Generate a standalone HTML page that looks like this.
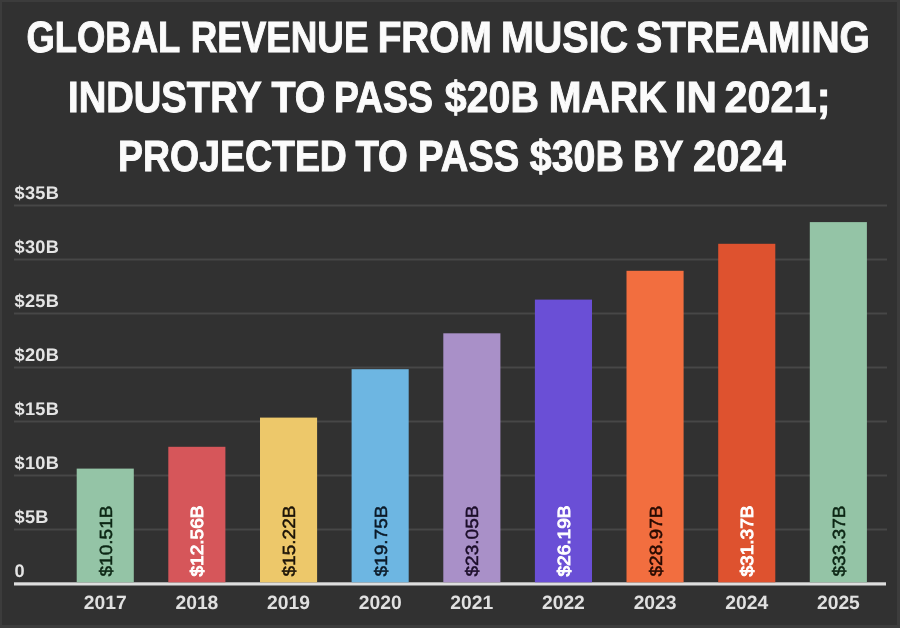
<!DOCTYPE html>
<html><head><meta charset="utf-8"><style>
html,body{margin:0;padding:0;background:#313131;}
svg{display:block;font-family:"Liberation Sans",sans-serif;will-change:transform;text-rendering:geometricPrecision;}
</style></head><body>
<svg width="900" height="628" viewBox="0 0 900 628">
<rect x="0" y="0" width="900" height="628" fill="#3c3c3c"/>
<rect x="2" y="2" width="895" height="623" fill="#313131"/>
<text x="26.43" y="51.80" textLength="153.80" lengthAdjust="spacingAndGlyphs" font-size="43.6" font-weight="bold" fill="#fbfbfb" stroke="#fbfbfb" stroke-width="1.0">GLOBAL</text>
<text x="190.63" y="51.80" textLength="177.81" lengthAdjust="spacingAndGlyphs" font-size="43.6" font-weight="bold" fill="#fbfbfb" stroke="#fbfbfb" stroke-width="1.0">REVENUE</text>
<text x="377.70" y="51.80" textLength="114.12" lengthAdjust="spacingAndGlyphs" font-size="43.6" font-weight="bold" fill="#fbfbfb" stroke="#fbfbfb" stroke-width="1.0">FROM</text>
<text x="500.95" y="51.80" textLength="127.19" lengthAdjust="spacingAndGlyphs" font-size="43.6" font-weight="bold" fill="#fbfbfb" stroke="#fbfbfb" stroke-width="1.0">MUSIC</text>
<text x="636.15" y="51.80" textLength="233.65" lengthAdjust="spacingAndGlyphs" font-size="43.6" font-weight="bold" fill="#fbfbfb" stroke="#fbfbfb" stroke-width="1.0">STREAMING</text>
<text x="68.04" y="111.90" textLength="193.74" lengthAdjust="spacingAndGlyphs" font-size="43.6" font-weight="bold" fill="#fbfbfb" stroke="#fbfbfb" stroke-width="1.0">INDUSTRY</text>
<text x="271.38" y="111.90" textLength="54.01" lengthAdjust="spacingAndGlyphs" font-size="43.6" font-weight="bold" fill="#fbfbfb" stroke="#fbfbfb" stroke-width="1.0">TO</text>
<text x="333.89" y="111.90" textLength="98.97" lengthAdjust="spacingAndGlyphs" font-size="43.6" font-weight="bold" fill="#fbfbfb" stroke="#fbfbfb" stroke-width="1.0">PASS</text>
<text x="444.78" y="111.90" textLength="94.06" lengthAdjust="spacingAndGlyphs" font-size="43.6" font-weight="bold" fill="#fbfbfb" stroke="#fbfbfb" stroke-width="1.0">&#36;20B</text>
<text x="548.77" y="111.90" textLength="117.84" lengthAdjust="spacingAndGlyphs" font-size="43.6" font-weight="bold" fill="#fbfbfb" stroke="#fbfbfb" stroke-width="1.0">MARK</text>
<text x="674.78" y="111.90" textLength="42.14" lengthAdjust="spacingAndGlyphs" font-size="43.6" font-weight="bold" fill="#fbfbfb" stroke="#fbfbfb" stroke-width="1.0">IN</text>
<text x="724.46" y="111.90" textLength="105.99" lengthAdjust="spacingAndGlyphs" font-size="43.6" font-weight="bold" fill="#fbfbfb" stroke="#fbfbfb" stroke-width="1.0">2021;</text>
<text x="118.08" y="170.70" textLength="228.81" lengthAdjust="spacingAndGlyphs" font-size="43.6" font-weight="bold" fill="#fbfbfb" stroke="#fbfbfb" stroke-width="1.0">PROJECTED</text>
<text x="355.39" y="170.70" textLength="52.44" lengthAdjust="spacingAndGlyphs" font-size="43.6" font-weight="bold" fill="#fbfbfb" stroke="#fbfbfb" stroke-width="1.0">TO</text>
<text x="418.04" y="170.70" textLength="101.15" lengthAdjust="spacingAndGlyphs" font-size="43.6" font-weight="bold" fill="#fbfbfb" stroke="#fbfbfb" stroke-width="1.0">PASS</text>
<text x="529.78" y="170.70" textLength="94.06" lengthAdjust="spacingAndGlyphs" font-size="43.6" font-weight="bold" fill="#fbfbfb" stroke="#fbfbfb" stroke-width="1.0">&#36;30B</text>
<text x="633.16" y="170.70" textLength="50.30" lengthAdjust="spacingAndGlyphs" font-size="43.6" font-weight="bold" fill="#fbfbfb" stroke="#fbfbfb" stroke-width="1.0">BY</text>
<text x="692.96" y="170.70" textLength="92.73" lengthAdjust="spacingAndGlyphs" font-size="43.6" font-weight="bold" fill="#fbfbfb" stroke="#fbfbfb" stroke-width="1.0">2024</text>
<rect x="14" y="528.5" width="873" height="2" fill="#474747"/>
<rect x="14" y="474.5" width="873" height="2" fill="#474747"/>
<rect x="14" y="420.5" width="873" height="2" fill="#474747"/>
<rect x="14" y="366.5" width="873" height="2" fill="#474747"/>
<rect x="14" y="312.5" width="873" height="2" fill="#474747"/>
<rect x="14" y="258.5" width="873" height="2" fill="#474747"/>
<rect x="14" y="204.5" width="873" height="2" fill="#474747"/>
<text x="14.5" y="576.9" font-size="18.2" letter-spacing="0.3" font-weight="bold" fill="#e4e4e4">0</text>
<text x="14.5" y="522.9" font-size="18.2" letter-spacing="0.3" font-weight="bold" fill="#e4e4e4">$5B</text>
<text x="14.5" y="468.9" font-size="18.2" letter-spacing="0.3" font-weight="bold" fill="#e4e4e4">$10B</text>
<text x="14.5" y="414.9" font-size="18.2" letter-spacing="0.3" font-weight="bold" fill="#e4e4e4">$15B</text>
<text x="14.5" y="360.9" font-size="18.2" letter-spacing="0.3" font-weight="bold" fill="#e4e4e4">$20B</text>
<text x="14.5" y="306.9" font-size="18.2" letter-spacing="0.3" font-weight="bold" fill="#e4e4e4">$25B</text>
<text x="14.5" y="252.9" font-size="18.2" letter-spacing="0.3" font-weight="bold" fill="#e4e4e4">$30B</text>
<text x="14.5" y="198.9" font-size="18.2" letter-spacing="0.3" font-weight="bold" fill="#e4e4e4">$35B</text>
<rect x="14" y="582.3" width="872" height="3.2" fill="#dedede"/>
<rect x="76.7" y="468.6" width="57.1" height="113.7" fill="#94c4a6"/>
<text transform="translate(111.85,576.5) rotate(-90)" x="0" y="0" textLength="71" lengthAdjust="spacingAndGlyphs" font-size="17.6" font-weight="normal" fill="#0c2614" stroke="#0c2614" stroke-width="0.5">&#36;10.51B</text>
<text x="105.2" y="608.6" text-anchor="middle" font-size="19.3" font-weight="bold" fill="#e0e0e0">2017</text>
<rect x="168.3" y="446.8" width="57.1" height="135.5" fill="#d6565a"/>
<text transform="translate(203.49,576.5) rotate(-90)" x="0" y="0" textLength="71" lengthAdjust="spacingAndGlyphs" font-size="17.6" font-weight="normal" fill="#ffffff" stroke="#ffffff" stroke-width="0.9">&#36;12.56B</text>
<text x="196.9" y="608.6" text-anchor="middle" font-size="19.3" font-weight="bold" fill="#e0e0e0">2018</text>
<rect x="260.0" y="417.6" width="57.1" height="164.7" fill="#edc86a"/>
<text transform="translate(295.13,576.5) rotate(-90)" x="0" y="0" textLength="71" lengthAdjust="spacingAndGlyphs" font-size="17.6" font-weight="normal" fill="#1c1408" stroke="#1c1408" stroke-width="0.5">&#36;15.22B</text>
<text x="288.5" y="608.6" text-anchor="middle" font-size="19.3" font-weight="bold" fill="#e0e0e0">2019</text>
<rect x="351.6" y="369.2" width="57.1" height="213.1" fill="#6db6e2"/>
<text transform="translate(386.77,576.5) rotate(-90)" x="0" y="0" textLength="71" lengthAdjust="spacingAndGlyphs" font-size="17.6" font-weight="normal" fill="#0c1a28" stroke="#0c1a28" stroke-width="0.5">&#36;19.75B</text>
<text x="380.2" y="608.6" text-anchor="middle" font-size="19.3" font-weight="bold" fill="#e0e0e0">2020</text>
<rect x="443.3" y="333.3" width="57.1" height="249.0" fill="#a990c8"/>
<text transform="translate(478.41,576.5) rotate(-90)" x="0" y="0" textLength="71" lengthAdjust="spacingAndGlyphs" font-size="17.6" font-weight="normal" fill="#1c0e2a" stroke="#1c0e2a" stroke-width="0.5">&#36;23.05B</text>
<text x="471.8" y="608.6" text-anchor="middle" font-size="19.3" font-weight="bold" fill="#e0e0e0">2021</text>
<rect x="534.9" y="299.6" width="57.1" height="282.7" fill="#6a4fd6"/>
<text transform="translate(570.05,576.5) rotate(-90)" x="0" y="0" textLength="71" lengthAdjust="spacingAndGlyphs" font-size="17.6" font-weight="normal" fill="#ffffff" stroke="#ffffff" stroke-width="0.9">&#36;26.19B</text>
<text x="563.4" y="608.6" text-anchor="middle" font-size="19.3" font-weight="bold" fill="#e0e0e0">2022</text>
<rect x="626.5" y="270.8" width="57.1" height="311.5" fill="#f26e3f"/>
<text transform="translate(661.69,576.5) rotate(-90)" x="0" y="0" textLength="71" lengthAdjust="spacingAndGlyphs" font-size="17.6" font-weight="normal" fill="#260a02" stroke="#260a02" stroke-width="0.5">&#36;28.97B</text>
<text x="655.1" y="608.6" text-anchor="middle" font-size="19.3" font-weight="bold" fill="#e0e0e0">2023</text>
<rect x="718.2" y="243.8" width="57.1" height="338.5" fill="#de522f"/>
<text transform="translate(753.33,576.5) rotate(-90)" x="0" y="0" textLength="71" lengthAdjust="spacingAndGlyphs" font-size="17.6" font-weight="normal" fill="#ffffff" stroke="#ffffff" stroke-width="0.9">&#36;31.37B</text>
<text x="746.7" y="608.6" text-anchor="middle" font-size="19.3" font-weight="bold" fill="#e0e0e0">2024</text>
<rect x="809.8" y="222.1" width="57.1" height="360.2" fill="#94c4a6"/>
<text transform="translate(844.97,576.5) rotate(-90)" x="0" y="0" textLength="71" lengthAdjust="spacingAndGlyphs" font-size="17.6" font-weight="normal" fill="#0c2614" stroke="#0c2614" stroke-width="0.5">&#36;33.37B</text>
<text x="838.4" y="608.6" text-anchor="middle" font-size="19.3" font-weight="bold" fill="#e0e0e0">2025</text>
</svg>
</body></html>
